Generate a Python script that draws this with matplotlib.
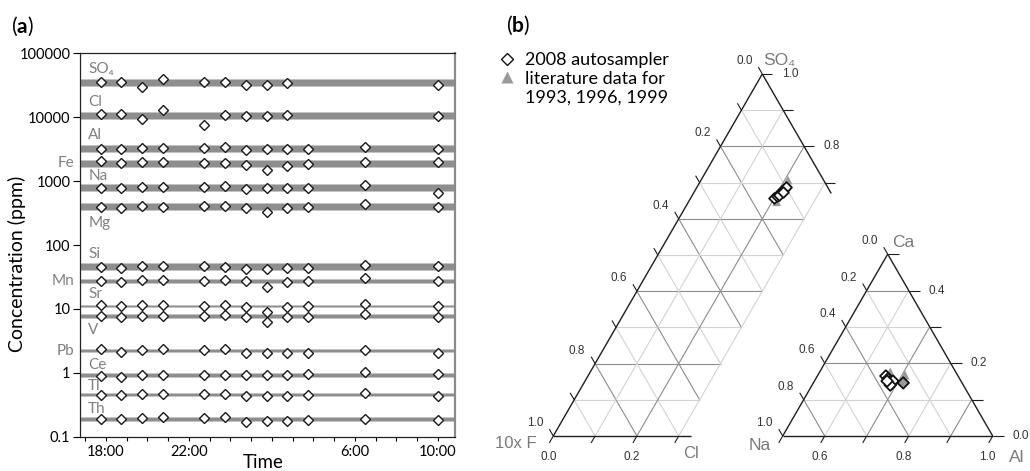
import numpy as np
import matplotlib
matplotlib.use('Agg')
import matplotlib.pyplot as plt
from matplotlib.lines import Line2D

plt.rcParams['font.family'] = ['Lato', 'DejaVu Sans']
plt.rcParams['mathtext.fontset'] = 'custom'
plt.rcParams['mathtext.rm'] = 'Lato'
plt.rcParams['mathtext.bf'] = 'Lato:bold'

nan = np.nan

# ---- panel (a) data: sampling times (hours from midnight of day 1) ----
sample_hours = [17.75, 18.75, 19.75, 20.75, 22.75, 23.75, 24.75, 25.75, 26.75, 27.75, 30.5, 34.0]

elements = ['SO₄', 'Cl', 'Al', 'Fe', 'Na', 'Mg', 'Si', 'Mn', 'Sr', 'V', 'Pb', 'Ce', 'Tl', 'Th']
band_lo = [30600, 9310, 2875, 1675, 705, 350, 40.4, 25.7, 10.7, 7.09, 2.08, 0.873, 0.427, 0.176]
band_hi = [39350, 11980, 3700, 2155, 907, 450, 51.9, 29.6, 11.5, 8.28, 2.37, 0.997, 0.482, 0.203]

conc = [
    [35200, 35900, 30000, 40000, 35900, 35600, 32300, 32300, 34700, nan, nan, 32300],   # SO4
    [11100, 11350, 9480, 12970, 7640, 10720, 10330, 10330, 10940, nan, nan, 10330],     # Cl
    [3210, 3180, 3330, 3330, 3330, 3420, 3100, 3210, 3180, 3180, 3450, 3210],           # Al
    [2060, 1900, 1990, 1970, 1900, 1900, 1770, 1480, 1740, 1850, 1970, 2010],           # Fe
    [789, 771, 817, 809, 817, 837, 760, 780, 780, 780, 869, 644],                       # Na
    [389, 384, 404, 397, 412, 412, 384, 325, 375, 394, 434, 394],                       # Mg
    [45.8, 44.2, 47.4, 46.9, 47.4, 45.8, 42.6, 42.6, 43.2, 43.2, 49.2, 46.9],           # Si
    [27.6, 26.4, 28.3, 28.3, 27.6, 28.3, 27.6, 22.0, 26.7, 27.6, 30.1, 27.4],           # Mn
    [11.4, 11.0, 11.4, 11.4, 11.2, 11.4, 10.8, 9.0, 10.7, 11.0, 12.1, 11.0],            # Sr
    [7.66, 7.39, 7.66, 7.83, 7.75, 7.94, 7.46, 6.17, 7.39, 7.46, 8.32, 7.39],           # V
    [2.36, 2.11, 2.27, 2.36, 2.25, 2.33, 2.02, 2.04, 2.02, 2.07, 2.30, 2.07],           # Pb
    [0.90, 0.87, 0.933, 0.933, 0.933, 0.933, 0.924, 0.933, 0.914, 0.957, 1.03, 0.947],  # Ce
    [0.449, 0.449, 0.471, 0.466, 0.466, 0.466, 0.434, 0.439, 0.439, 0.445, 0.478, 0.439],  # Tl
    [0.191, 0.187, 0.198, 0.201, 0.198, 0.201, 0.172, 0.176, 0.176, 0.181, 0.191, 0.181],  # Th
]

time_ticks = [18, 22, 30, 34]
time_labels = ['18:00', '22:00', '6:00', '10:00']

# ---- panel (b) data: ternary compositions ----
# SO4 - Cl - 10xF diagram
auto_so4 = [0.657, 0.663, 0.671, 0.677, 0.682, 0.688, 0.666, 0.674]
auto_cl = [0.199, 0.204, 0.207, 0.209, 0.211, 0.213, 0.207, 0.2125]
lit_so4 = [0.647, 0.698, 0.707]
lit_cl = [0.211, 0.209, 0.208]
# Ca - Al - Na diagram
auto_ca = [0.165, 0.157, 0.148, 0.143, 0.151, 0.140, 0.151, 0.146]
auto_al = [0.663, 0.672, 0.679, 0.686, 0.687, 0.686, 0.673, 0.714]
lit_ca = [0.176, 0.168, 0.151]
lit_al = [0.668, 0.707, 0.711]

W, Hpx = 1030, 471
fig = plt.figure(figsize=(W / 100, Hpx / 100), dpi=100)

# ================= panel (a) =================
ax = fig.add_axes([80 / W, 1 - 436.7 / Hpx, 374.5 / W, 383.4 / Hpx])
ax.set_yscale('log')
ax.set_ylim(0.1, 100000)
ax.set_xlim(16.75, 34.8)

for lo, hi in zip(band_lo, band_hi):
    ax.axhspan(lo, hi, facecolor='#8e8e8e', edgecolor='#c4c4c4', lw=0.6, zorder=1)

for vals in conc:
    ax.plot(sample_hours, vals, linestyle='none', marker='D', ms=4.8,
            mfc='white', mec='#1a1a1a', mew=1.0, zorder=3)

# element labels: offset in pixels from band centre
label_side = ['in', 'in', 'in', 'out', 'in', 'in', 'in', 'out', 'in', 'in', 'out', 'in', 'in', 'in']
label_dy = [-14, -14, -13, 0, -11, 16, -13, 0, -12, 14, 0, -10, -9, -10]
for name, lo, hi, side, dy in zip(elements, band_lo, band_hi, label_side, label_dy):
    mid = np.sqrt(lo * hi)
    if side == 'in':
        ax.annotate(name, xy=(0.022, mid), xycoords=('axes fraction', 'data'),
                    xytext=(0, -dy * 0.72), textcoords='offset points',
                    ha='left', va='center', fontsize=11, color='#808080',
                    family=['Lato', 'DejaVu Sans'])
    else:
        ax.annotate(name, xy=(0, mid), xycoords=('axes fraction', 'data'),
                    xytext=(-4, 0), textcoords='offset points',
                    ha='right', va='center', fontsize=11, color='#808080')

ax.set_yticks([0.1, 1, 10, 100, 1000, 10000, 100000])
ax.set_yticklabels(['0.1', '1', '10', '100', '1000', '10000', '100000'])
ax.yaxis.set_minor_locator(matplotlib.ticker.NullLocator())
ax.set_xticks(range(17, 35), minor=True)
ax.set_xticks(time_ticks)
ax.set_xticklabels(time_labels)
ax.tick_params(axis='y', which='major', length=5, width=0.8, labelsize=10.5, pad=2)
ax.tick_params(axis='x', which='both', length=3, width=0.8, labelsize=10.5, pad=3)
for s in ['left', 'bottom', 'top']:
    ax.spines[s].set_color('#222222')
    ax.spines[s].set_linewidth(0.9)
ax.spines['right'].set_color('#8a8a8a')
ax.spines['right'].set_linewidth(1.6)

fig.text(17 / W, 1 - 264 / Hpx, 'Concentration (ppm)', rotation=90, ha='center', va='center', fontsize=14)
fig.text(263 / W, 1 - 462 / Hpx, 'Time', ha='center', va='center', fontsize=13.5)
fig.text(11 / W, 1 - 26 / Hpx, r'($\mathbf{a}$)', ha='left', va='center', fontsize=15)
fig.text(506 / W, 1 - 25 / Hpx, r'($\mathbf{b}$)', ha='left', va='center', fontsize=15)

# ================= panel (b) =================
axb = fig.add_axes([480 / W, 0, 550 / W, 1])
axb.set_xlim(480, 1030)
axb.set_ylim(Hpx, 0)
axb.axis('off')

H = np.sqrt(3) / 2
EDGE = '#1e1e1e'
DARK = '#8c8c8c'
LIGHT = '#d2d2d2'
TFONT = ['Liberation Sans', 'DejaVu Sans']


def seg(p, q, color, lw=0.8, z=1):
    axb.plot([p[0], q[0]], [p[1], q[1]], color=color, lw=lw, zorder=z, solid_capstyle='butt')


def tick(p, dx, dy, L):
    seg(p, (p[0] + dx * L, p[1] + dy * L), EDGE, lw=0.8, z=2)


def lab(p, txt, ox, oy, size=8.5, color='#333333'):
    axb.text(p[0] + ox, p[1] + oy, txt, ha='center', va='center', fontsize=size,
             color=color, family=TFONT)


# big triangle (SO4 top, 10x F bottom-left, Cl bottom-right)
BO = (553.3, 436.0)
BS = 418.0


def big_xy(so4, cl):
    so4 = np.asarray(so4, dtype=float)
    cl = np.asarray(cl, dtype=float)
    return BO[0] + BS * (cl + so4 / 2), BO[1] - BS * H * so4


CL_MAX = 0.3
for k in range(1, 10):
    v = k / 10
    col = DARK if k % 2 == 0 else LIGHT
    ce = min(1 - v, CL_MAX)
    seg(big_xy(v, 0), big_xy(v, ce), col)               # const SO4
    seg(big_xy(1 - v, 0), big_xy(1 - v - ce, ce), col)  # const F
for k in range(1, 4):
    v = k / 10
    seg(big_xy(0, v), big_xy(1 - v, v), DARK if k % 2 == 0 else LIGHT)  # const Cl

seg(big_xy(0, 0), big_xy(1, 0), EDGE, 1.0, 2)
seg(big_xy(0, 0), big_xy(0, 0.33), EDGE, 1.0, 2)
seg(big_xy(1, 0), big_xy(0.67, 0.33), EDGE, 1.0, 2)

for k in range(0, 11):
    p = big_xy(k / 10, 0)
    tick(p, -0.5, -H, 8)
    if k % 2 == 0:
        lab(p, f'{1 - k / 10:.1f}', -18, -13)
for k in range(0, 4):
    p = big_xy(0, k / 10)
    tick(p, -0.5, H, 8)
    if k % 2 == 0:
        lab(p, f'{k / 10:.1f}', -5, 21)
for k in range(7, 11):
    p = big_xy(k / 10, 1 - k / 10)
    tick(p, 1, 0, 10)
    if k % 2 == 0:
        lab(p, f'{k / 10:.1f}', 28, 0)

lab(big_xy(1, 0), 'SO₄', 17, -14, 12.5, '#7a7a7a')
lab(big_xy(0, 0), '10x F', -37, 8, 12, '#7a7a7a')
lab(big_xy(0, 0.33), 'Cl', 0, 17, 12, '#7a7a7a')

# small triangle (Ca top, Na bottom-left, Al bottom-right); shows Al >= 0.5
SO = (782.7, 436.0)
SS = 210.0


def loc_xy(c, a):
    c = np.asarray(c, dtype=float)
    a = np.asarray(a, dtype=float)
    return SO[0] + SS * (a + c / 2), SO[1] - SS * H * c


def small_xy(ca, al):
    return loc_xy(np.asarray(ca) / 0.5, (np.asarray(al) - 0.5) / 0.5)


for k in range(1, 5):
    u = k / 5
    col = DARK if k % 2 == 0 else LIGHT
    seg(loc_xy(u, 0), loc_xy(u, 1 - u), col)
    seg(loc_xy(0, u), loc_xy(1 - u, u), col)
    seg(loc_xy(1 - u, 0), loc_xy(0, 1 - u), col)

seg(loc_xy(0, 0), loc_xy(1, 0), EDGE, 1.0, 2)
seg(loc_xy(0, 0), loc_xy(0, 1), EDGE, 1.0, 2)
seg(loc_xy(1, 0), loc_xy(0, 1), EDGE, 1.0, 2)

for j in range(0, 6):
    u = j / 5
    p = loc_xy(u, 0)
    tick(p, -0.5, -H, 8)
    lab(p, f'{1 - u:.1f}', -18, -13)
    p = loc_xy(0, u)
    tick(p, -0.5, H, 8)
    if j % 2 == 1:
        lab(p, f'{0.5 + u / 2:.1f}', -5, 21)
    p = loc_xy(u, 1 - u)
    tick(p, 1, 0, 11)
    if j % 2 == 0 and j < 5:
        lab(p, f'{u / 2:.1f}', 28, 0)

lab(loc_xy(1, 0), 'Ca', 16, -12, 12.5, '#7a7a7a')
lab(loc_xy(0, 0), 'Na', -23, 10, 12.5, '#7a7a7a')
lab(loc_xy(0, 1), 'Al', 24, 21, 12.5, '#7a7a7a')

# data points
bx, by = big_xy(lit_so4, lit_cl)
axb.scatter(bx, by, marker='^', s=40, c='#9a9a9a', edgecolors='none', zorder=4)
bx, by = big_xy(auto_so4, auto_cl)
axb.scatter(bx, by, marker='D', s=30, facecolors='white', edgecolors='#111111', linewidths=1.3, zorder=5)

sx, sy = small_xy(lit_ca, lit_al)
axb.scatter(sx, sy, marker='^', s=45, c='#9a9a9a', edgecolors='none', zorder=4)
sx, sy = small_xy(auto_ca, auto_al)
faces = ['white'] * (len(auto_ca) - 1) + ['#9a9a9a']
axb.scatter(sx, sy, marker='D', s=34, facecolors=faces, edgecolors='#111111', linewidths=1.3, zorder=5)

handles = [
    Line2D([], [], linestyle='none', marker='D', ms=6.5, mfc='white', mec='#111111', mew=1.0),
    Line2D([], [], linestyle='none', marker='^', ms=8, mfc='#9a9a9a', mec='none'),
    Line2D([], [], linestyle='none'),
]
fig.legend(handles, ['2008 autosampler', 'literature data for', '1993, 1996, 1999'],
           loc='upper left', bbox_to_anchor=(500 / W, 1 - 52 / Hpx), frameon=False,
           fontsize=13, handlelength=0.8, handletextpad=0.6, labelspacing=0.15,
           borderpad=0, borderaxespad=0)

fig.savefig('out.png', dpi=100)
